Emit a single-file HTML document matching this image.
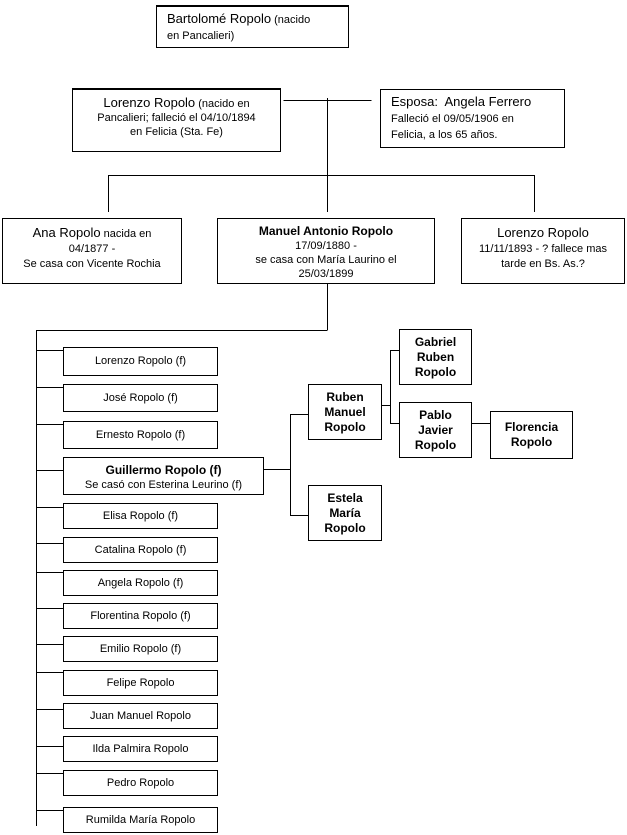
<!DOCTYPE html>
<html><head><meta charset="utf-8"><style>
body{margin:0;width:627px;height:835px;background:#fff;position:relative;overflow:hidden;font-family:"Liberation Sans",Arial,sans-serif;color:#000}
.b{position:absolute;border:1px solid #000;box-sizing:border-box;background:#fff;font-size:11px;text-align:center;line-height:13px}
.c{display:flex;align-items:center;justify-content:center}
.big{font-size:13px}
.bd{font-weight:bold;font-size:12px}
svg{position:absolute;left:0;top:0}
</style></head><body>
<svg width="627" height="835"><g stroke="#000" stroke-width="1" fill="none">
<path d="M283.5 100.5H371.5M327.5 98V212M108.5 175.5H534.5M108.5 175V212M534.5 175V212M327.5 283V330M36.5 330.5H327.5M36.5 330V826"/>
<path d="M36 350.5H63M36 387.5H63M36 424.5H63M36 470.5H63M36 507.5H63M36 543.5H63M36 572.5H63M36 608.5H63M36 644.5H63M36 672.5H63M36 709.5H63M36 746.5H63M36 773.5H63M36 810.5H63"/>
<path d="M264 469.5H290.5M290.5 414V516M290 414.5H308M290 515.5H308M382 405.5H390.5M390.5 350V424M390 350.5H399M390 423.5H399M472 423.5H490"/>
</g></svg>
<div class="b" style="left:156px;top:5px;width:193px;height:43px;border-top-width:2px;text-align:left;padding:4px 10px;line-height:16px;white-space:nowrap"><span class="big">Bartolomé Ropolo</span> (nacido<br>en Pancalieri)</div>
<div class="b" style="left:72px;top:88px;width:209px;height:64px;border-top-width:2px;padding-top:6px;line-height:14px"><span class="big">Lorenzo Ropolo</span> (nacido en<br>Pancalieri; falleció el 04/10/1894<br>en Felicia (Sta. Fe)</div>
<div class="b" style="left:380px;top:89px;width:185px;height:59px;text-align:left;padding:4px 10px;line-height:16px"><span class="big">Esposa:&nbsp; Angela Ferrero</span><br>Falleció el 09/05/1906 en<br>Felicia, a los 65 años.</div>
<div class="b" style="left:2px;top:218px;width:180px;height:66px;padding-top:6px;line-height:15px"><span class="big">Ana Ropolo</span> nacida en<br>04/1877 -<br>Se casa con Vicente Rochia</div>
<div class="b" style="left:217px;top:218px;width:218px;height:66px;padding-top:5px;line-height:14px"><span class="bd">Manuel Antonio Ropolo</span><br>17/09/1880 -<br>se casa con María Laurino el<br>25/03/1899</div>
<div class="b" style="left:461px;top:218px;width:164px;height:66px;padding-top:6px;line-height:15px;white-space:nowrap;overflow:hidden"><span class="big">Lorenzo Ropolo</span><br>11/11/1893 - ? fallece mas<br>tarde en Bs. As.?</div>
<div class="b c" style="left:63px;top:347px;width:155px;height:29px">Lorenzo Ropolo (f)</div>
<div class="b c" style="left:63px;top:384px;width:155px;height:28px">José Ropolo (f)</div>
<div class="b c" style="left:63px;top:421px;width:155px;height:28px">Ernesto Ropolo (f)</div>
<div class="b" style="left:63px;top:457px;width:201px;height:38px;padding-top:5px;line-height:14px"><span class="bd">Guillermo Ropolo (f)</span><br>Se casó con Esterina Leurino (f)</div>
<div class="b c" style="left:63px;top:503px;width:155px;height:26px">Elisa Ropolo (f)</div>
<div class="b c" style="left:63px;top:537px;width:155px;height:26px">Catalina Ropolo (f)</div>
<div class="b c" style="left:63px;top:570px;width:155px;height:26px">Angela Ropolo (f)</div>
<div class="b c" style="left:63px;top:603px;width:155px;height:26px">Florentina Ropolo (f)</div>
<div class="b c" style="left:63px;top:636px;width:155px;height:26px">Emilio Ropolo (f)</div>
<div class="b c" style="left:63px;top:670px;width:155px;height:26px">Felipe Ropolo</div>
<div class="b c" style="left:63px;top:703px;width:155px;height:26px">Juan Manuel Ropolo</div>
<div class="b c" style="left:63px;top:736px;width:155px;height:26px">Ilda Palmira Ropolo</div>
<div class="b c" style="left:63px;top:770px;width:155px;height:26px">Pedro Ropolo</div>
<div class="b c" style="left:63px;top:807px;width:155px;height:26px">Rumilda María Ropolo</div>
<div class="b c bd" style="left:308px;top:384px;width:74px;height:56px;line-height:15px">Ruben<br>Manuel<br>Ropolo</div>
<div class="b c bd" style="left:308px;top:485px;width:74px;height:56px;line-height:15px">Estela<br>María<br>Ropolo</div>
<div class="b c bd" style="left:399px;top:329px;width:73px;height:56px;line-height:15px">Gabriel<br>Ruben<br>Ropolo</div>
<div class="b c bd" style="left:399px;top:402px;width:73px;height:56px;line-height:15px">Pablo<br>Javier<br>Ropolo</div>
<div class="b c bd" style="left:490px;top:411px;width:83px;height:48px;line-height:15px">Florencia<br>Ropolo</div>
</body></html>
